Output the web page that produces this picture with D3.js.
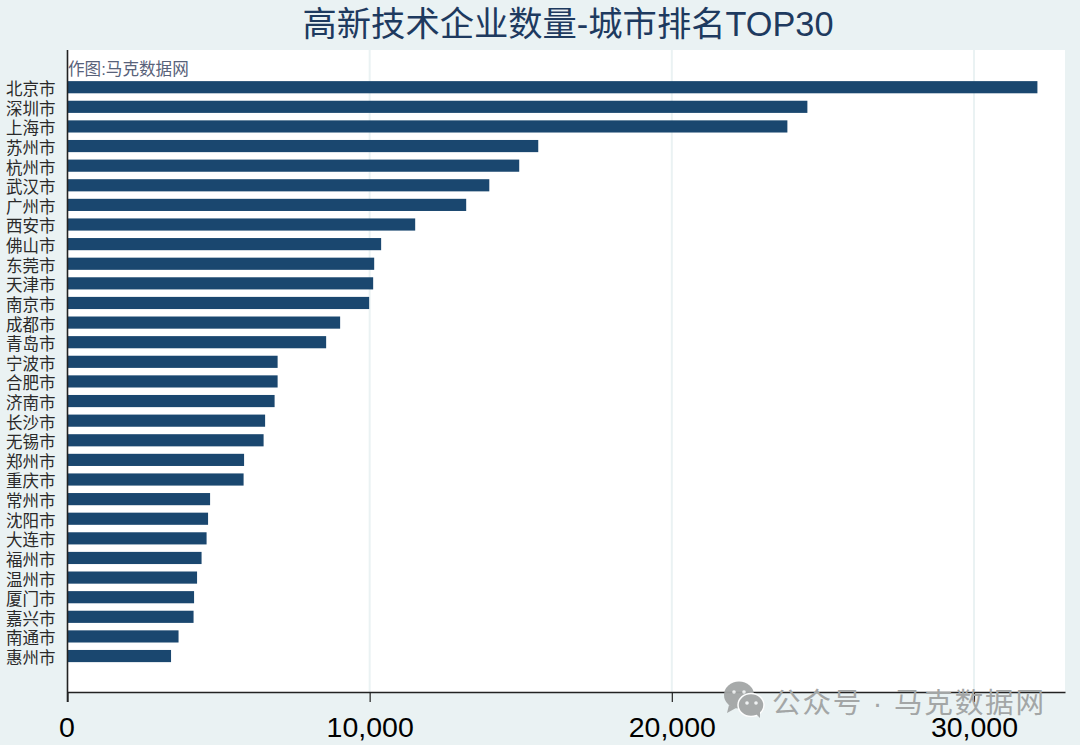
<!DOCTYPE html>
<html><head><meta charset="utf-8">
<script src="https://d3js.org/d3.v7.min.js"></script>
<style>html,body{margin:0;padding:0;background:#eaf2f3}svg{display:block}</style>
</head><body><div id="c"></div>
<script>
const cities = ["北京市","深圳市","上海市","苏州市","杭州市","武汉市","广州市","西安市","佛山市","东莞市","天津市","南京市","成都市","青岛市","宁波市","合肥市","济南市","长沙市","无锡市","郑州市","重庆市","常州市","沈阳市","大连市","福州市","温州市","厦门市","嘉兴市","南通市","惠州市"];
const counts = [32100,24487,23825,15580,14950,13960,13195,11507,10380,10150,10116,9983,9023,8560,6954,6954,6854,6540,6490,5844,5828,4719,4652,4603,4437,4288,4189,4172,3675,3427];
const xTicks = [0,10000,20000,30000];
const titleText = "高新技术企业数量-城市排名TOP30";
const creditText = "作图:马克数据网";
const watermarkText = "公众号 · 马克数据网";

const W=1080,H=745,L=67.5,R=1065,T=50,B=692;
const cjk='"Liberation Sans","Noto Sans CJK SC",sans-serif';
const latin='"Liberation Sans",Arial,sans-serif';
const svg=d3.select("#c").append("svg").attr("width",W).attr("height",H);
svg.append("rect").attr("width",W).attr("height",H).attr("fill","#eaf2f3");
svg.append("rect").attr("x",L).attr("y",T).attr("width",R-L).attr("height",B-T).attr("fill","#fff");

const x=d3.scaleLinear().domain([0,33013]).range([L,R]);
const step=19.615;
const y=d3.scaleBand().domain(cities).range([77.4,77.4+step*cities.length]).paddingInner(0.38).paddingOuter(0.19);

svg.append("g").selectAll("line").data(xTicks.slice(1)).join("line")
  .attr("x1",d=>x(d)).attr("x2",d=>x(d)).attr("y1",T).attr("y2",B)
  .attr("stroke","#eaf2f3").attr("stroke-width",2);

svg.append("g").selectAll("rect").data(cities).join("rect")
  .attr("x",L).attr("y",d=>y(d)).attr("height",y.bandwidth())
  .attr("width",(d,i)=>x(counts[i])-L).attr("fill","#1a476f");

const xAxis=svg.append("g").attr("transform",`translate(0,${B})`)
  .call(d3.axisBottom(x).tickValues(xTicks).tickFormat(d3.format(",")).tickSize(10).tickSizeOuter(0));
xAxis.select(".domain").attr("stroke","#222").attr("stroke-width",1.6);
xAxis.selectAll(".tick line").attr("stroke","#222").attr("stroke-width",1.2);
xAxis.selectAll("text").attr("font-family",latin).attr("font-size",28.5).attr("fill","#000").attr("dy",0).attr("y",45);
xAxis.selectAll(".tick").filter(d=>d===0).select("text").attr("x",-1);

const yAxis=svg.append("g").attr("transform",`translate(${L},0)`)
  .call(d3.axisLeft(y).tickSize(0).tickPadding(12));
yAxis.select(".domain").remove();
svg.append("line").attr("x1",L).attr("x2",L).attr("y1",T).attr("y2",B+10).attr("stroke","#222").attr("stroke-width",1.6);
yAxis.selectAll("text").attr("font-family",cjk).attr("font-size",16.5).attr("fill","#2a2a2a").attr("dy","0.48em");

svg.append("text").attr("x",568).attr("y",36).attr("text-anchor","middle")
  .attr("font-family",cjk).attr("font-size",34.3).attr("fill","#1e3a5f").text(titleText);
svg.append("text").attr("x",68).attr("y",75)
  .attr("font-family",cjk).attr("font-size",16.6).attr("fill","#58627a").text(creditText);

// watermark
const wm=svg.append("g").attr("fill","#a3a6a6").attr("opacity",0.95);
wm.append("ellipse").attr("cx",739).attr("cy",695).attr("rx",15).attr("ry",13.5);
wm.append("path").attr("d","M729 705 L727 713 L736 708Z");
wm.append("ellipse").attr("cx",751).attr("cy",705).attr("rx",13).attr("ry",11.5).attr("stroke","#fff").attr("stroke-width",1.5);
wm.append("path").attr("d","M756 714 L760 718 L760 711Z");
[[734,692],[744,692],[747,703],[756,703]].forEach(p=>wm.append("circle").attr("cx",p[0]).attr("cy",p[1]).attr("r",1.8).attr("fill","#f1f3f3"));
svg.append("text").attr("x",772).attr("y",713).attr("font-family",cjk).attr("font-size",28.6).attr("fill","#a3a6a6").attr("textLength",272).attr("lengthAdjust","spacing").text(watermarkText);
</script></body></html>
